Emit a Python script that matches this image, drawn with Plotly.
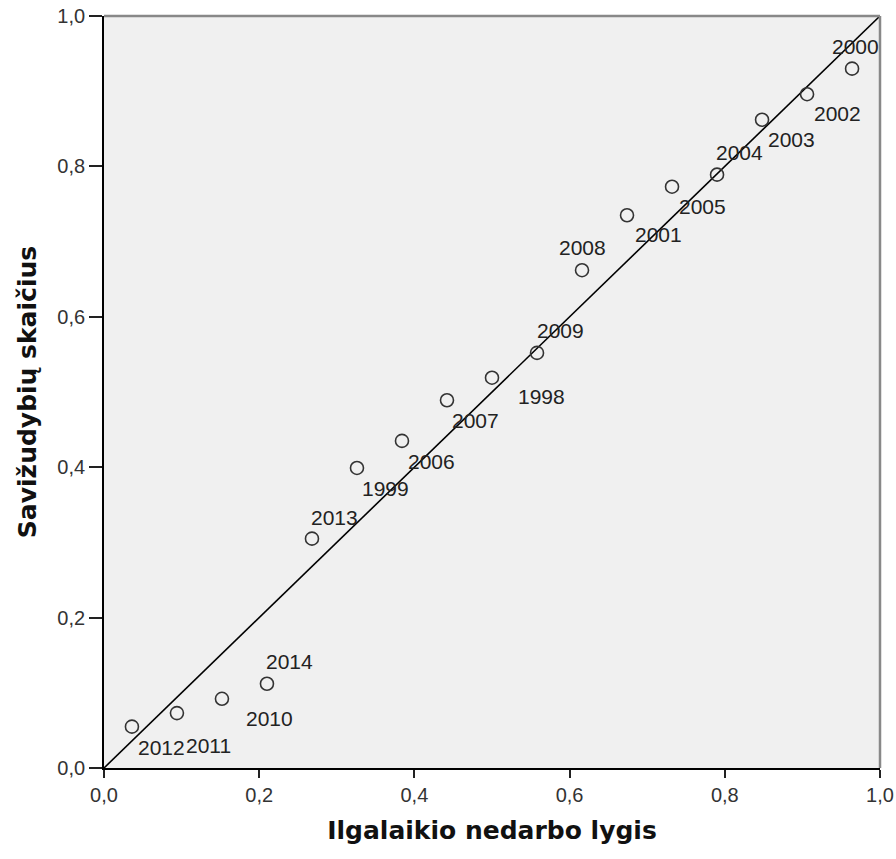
import plotly.graph_objects as go

years = ["2012", "2011", "2010", "2014", "2013", "1999", "2006", "2007", "1998",
         "2009", "2008", "2001", "2005", "2004", "2003", "2002", "2000"]
expected = [0.036, 0.094, 0.152, 0.210, 0.268, 0.326, 0.384, 0.442, 0.500,
            0.558, 0.616, 0.674, 0.732, 0.790, 0.848, 0.906, 0.964]
observed = [0.055, 0.073, 0.092, 0.112, 0.305, 0.399, 0.435, 0.489, 0.519,
            0.552, 0.662, 0.735, 0.773, 0.789, 0.862, 0.896, 0.930]
tick_vals = [0.0, 0.2, 0.4, 0.6, 0.8, 1.0]
tick_text = ["0,0", "0,2", "0,4", "0,6", "0,8", "1,0"]

# label offsets in pixels (dx, dy up)
label_dx = [30, 32, 48, 23, 23, 29, 30, 29, 49, 23, 0, 31, 30, 22, 29, 30, 3]
label_dy = [-21, -32, -20, 22, 21, -21, -21, -20, -19, 22, 23, -19, -20, 22, -20, -19, 22]

fig = go.Figure()
fig.add_trace(go.Scatter(x=[0, 1], y=[0, 1], mode="lines",
                         line=dict(color="black", width=1.6), hoverinfo="skip"))
fig.add_trace(go.Scatter(x=expected, y=observed, mode="markers",
                         marker=dict(symbol="circle-open", size=13,
                                     line=dict(color="#333333", width=1.6),
                                     color="#333333")))

for yr, xv, yv, dx, dy in zip(years, expected, observed, label_dx, label_dy):
    fig.add_annotation(x=xv, y=yv, xref="x", yref="y", text=yr, showarrow=False,
                       xshift=dx, yshift=dy, xanchor="center", yanchor="middle",
                       font=dict(family="Liberation Sans", size=21, color="#222222"))

# top and right border (grey)
fig.add_shape(type="line", xref="paper", yref="paper", x0=0, x1=1, y0=1, y1=1,
              line=dict(color="#888888", width=2.5))
fig.add_shape(type="line", xref="paper", yref="paper", x0=1, x1=1, y0=0, y1=1,
              line=dict(color="#888888", width=2.5))

axis_common = dict(range=[0, 1], tickvals=tick_vals, ticktext=tick_text,
                   showgrid=False, zeroline=False, showline=True, automargin=False,
                   linecolor="black", linewidth=1.8, ticks="outside",
                   tickwidth=1.8, tickcolor="#222222",
                   ticklabeloverflow="allow",
                   tickfont=dict(family="Liberation Sans", size=20, color="#333333"))

fig.update_layout(
    width=896, height=859,
    margin=dict(l=104, r=16, t=16, b=91),
    paper_bgcolor="white", plot_bgcolor="#f0f0f0",
    showlegend=False,
    xaxis=dict(**axis_common, ticklen=8,
               title=dict(text="<b>Ilgalaikio nedarbo lygis</b>", standoff=17,
                          font=dict(family="DejaVu Sans", size=25, color="#111111"))),
    yaxis=dict(**axis_common, ticklen=13,
               title=dict(text="<b>Savižudybių skaičius</b>", standoff=14,
                          font=dict(family="DejaVu Sans", size=25, color="#111111"))),
)

fig.write_html("out.html", config={"displayModeBar": False},
               post_script="document.body.style.margin='0';document.body.style.overflow='hidden';")
